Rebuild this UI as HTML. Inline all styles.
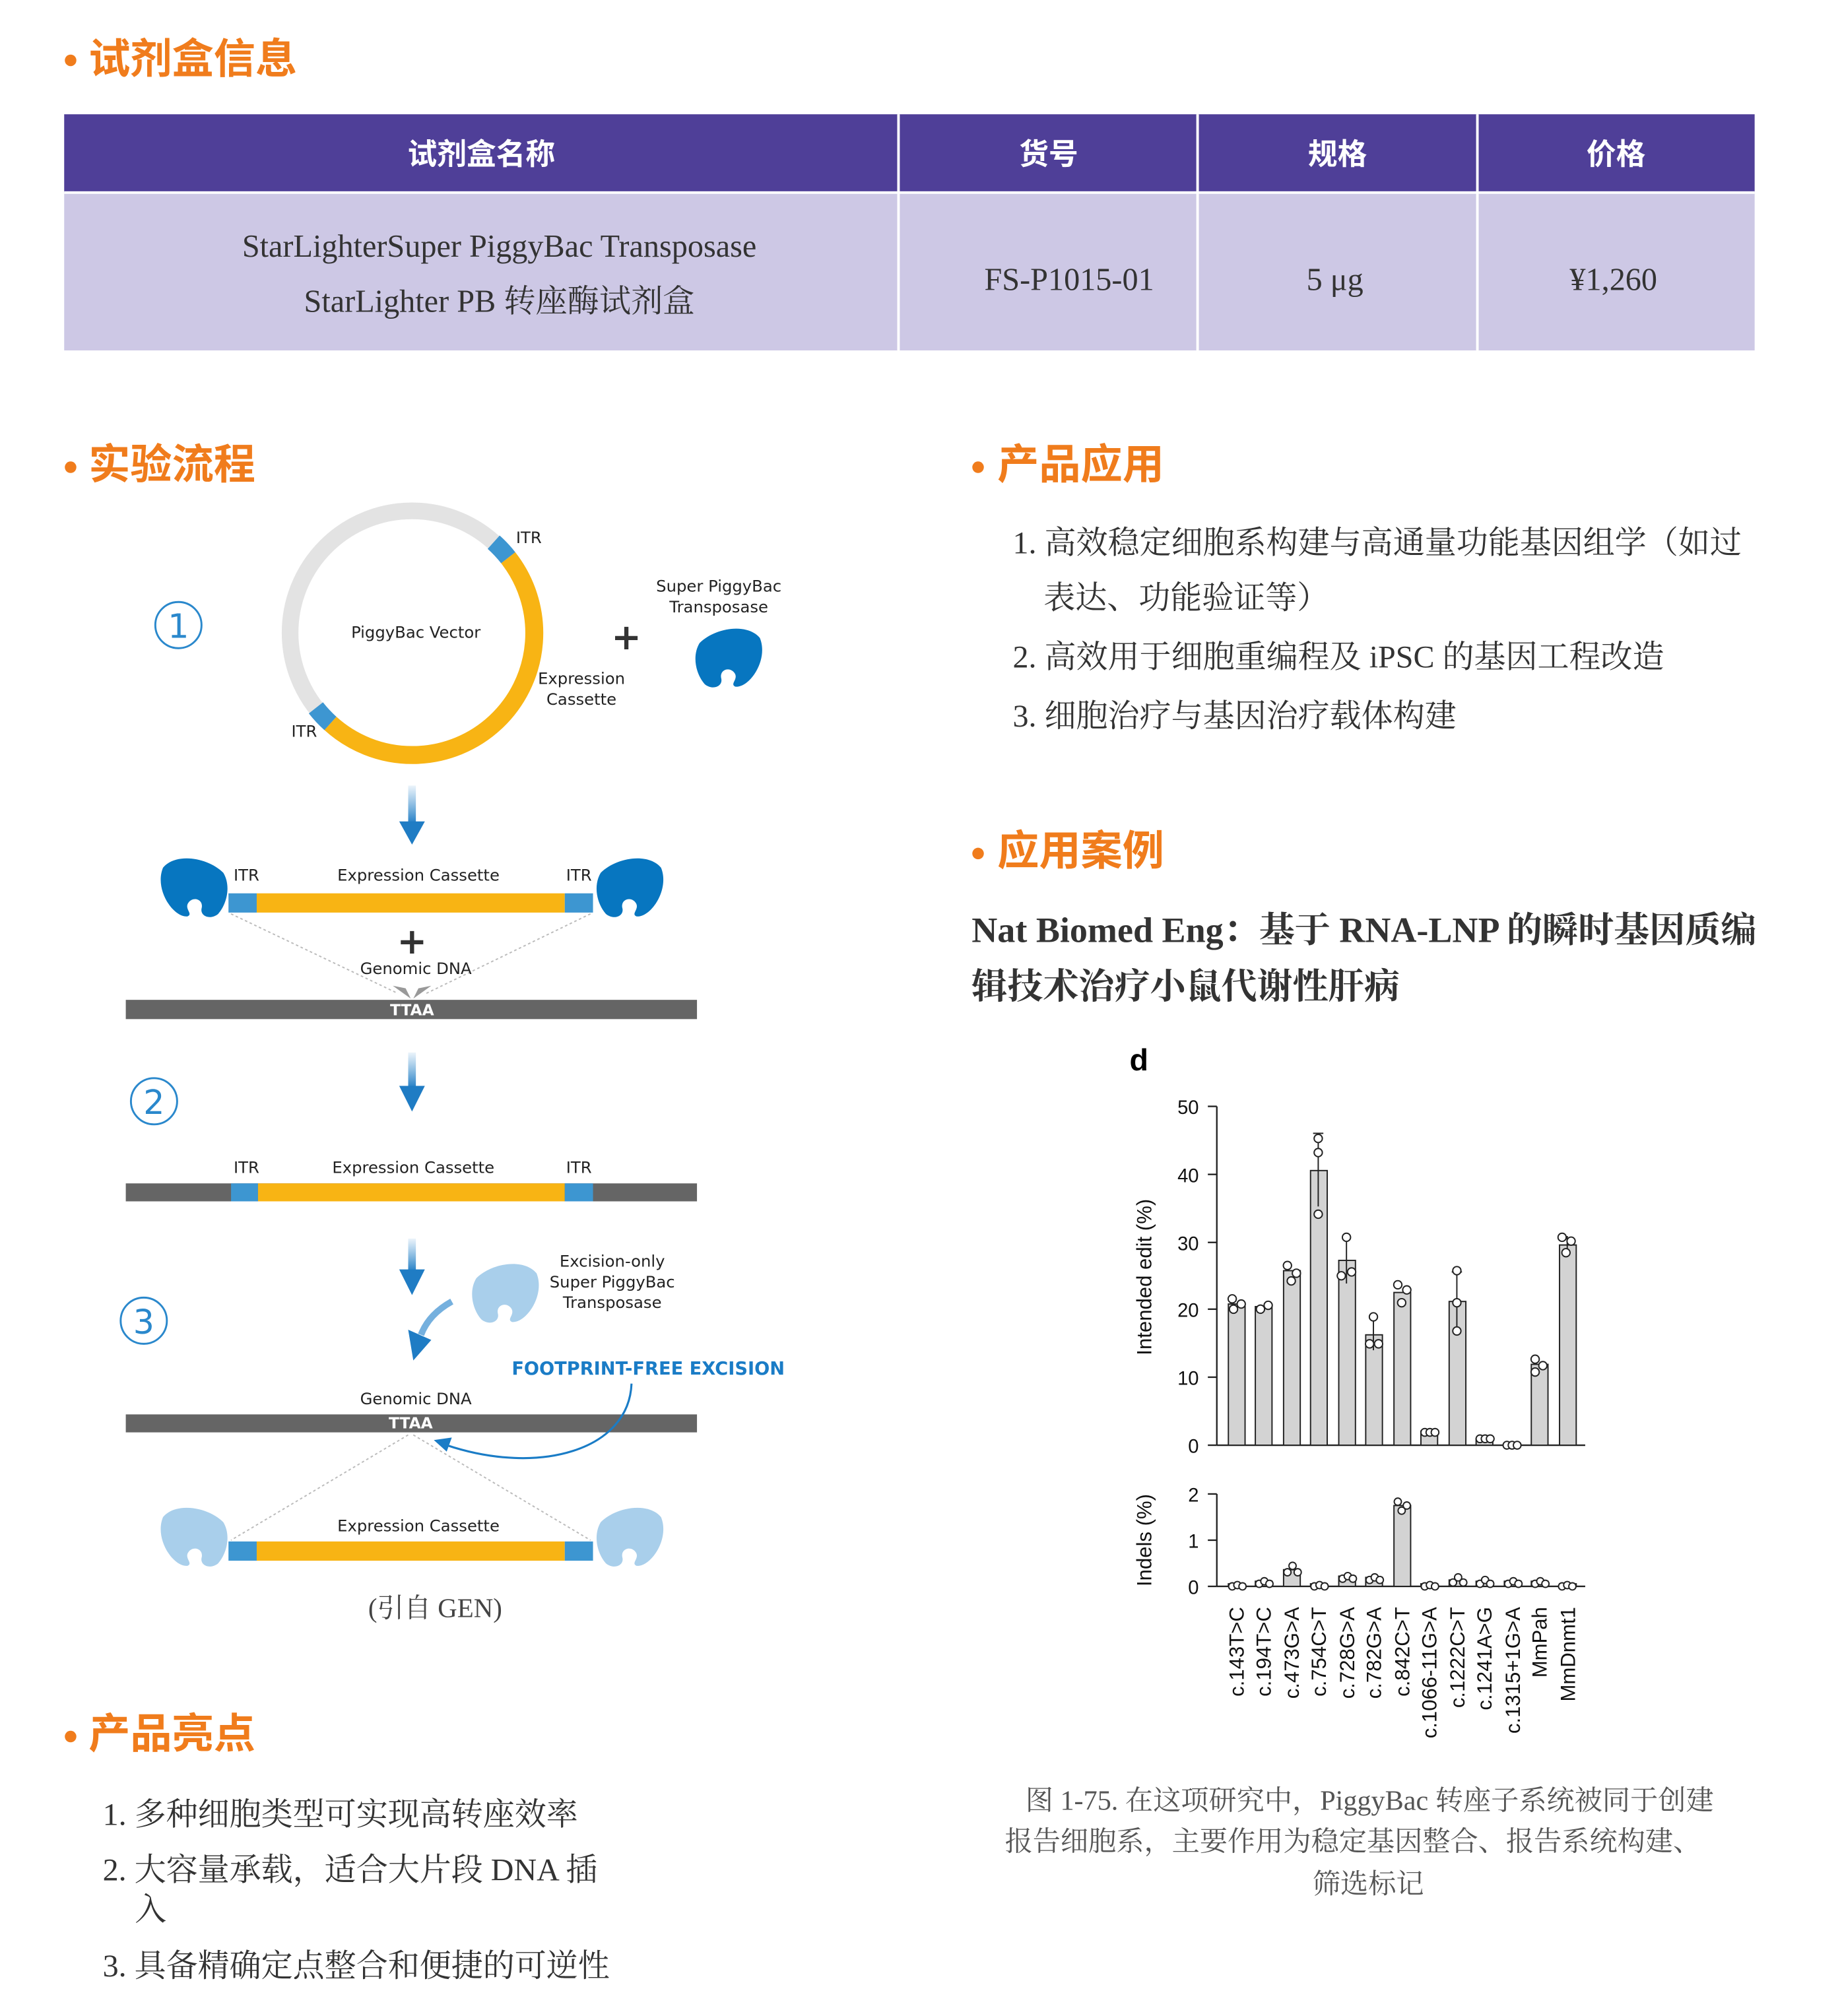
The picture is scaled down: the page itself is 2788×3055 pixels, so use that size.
<!DOCTYPE html>
<html><head><meta charset="utf-8">
<style>
html,body{margin:0;padding:0;background:#fff;}
svg{display:block;}
.h{font-family:"Liberation Sans","Noto Sans CJK SC",sans-serif;font-weight:bold;fill:#f07c1c;font-size:32.5px;}
.th{font-family:"Liberation Sans","Noto Sans CJK SC",sans-serif;font-weight:bold;fill:#fff;font-size:23px;}
.td{font-family:"Liberation Serif","Noto Serif CJK SC",serif;fill:#333;font-size:24.8px;}
.li{font-family:"Liberation Serif","Noto Serif CJK SC",serif;fill:#333;font-size:24.7px;}
.d{font-family:"DejaVu Sans","Liberation Sans",sans-serif;fill:#222;font-size:12.5px;}
.ax{font-family:"Liberation Sans",sans-serif;fill:#111;font-size:15px;}
</style></head>
<body>
<svg width="2788" height="3055" viewBox="0 0 1433.5 1570.7" xmlns="http://www.w3.org/2000/svg">
<defs>
<linearGradient id="ga" x1="0" y1="0" x2="0" y2="1"><stop offset="0" stop-color="#3a8fd0" stop-opacity="0.1"/><stop offset="1" stop-color="#1f7cc4"/></linearGradient>
<path id="pr" d="M5,10 C15,-2 40,2 52,14 C58,24 55,38 48,46 C42,51 34,48 35,42 C37,35 29,32 25,37 C21,42 29,46 24,48 C13,49 -2,27 5,10 Z"/>
</defs>

<circle cx="55" cy="47" r="4.5" fill="#f07c1c"/>
<text class="h" x="69" y="57">试剂盒信息</text>
<rect x="50" y="89" width="1317" height="61" fill="#4f3f98"/>
<rect x="50" y="150" width="1317" height="123" fill="#cdc8e5"/>
<g stroke="#fff" stroke-width="2"><line x1="700" y1="89" x2="700" y2="273"/><line x1="933" y1="89" x2="933" y2="273"/><line x1="1151" y1="89" x2="1151" y2="273"/><line x1="50" y1="150" x2="1367" y2="150"/></g>
<text class="th" x="375" y="128" text-anchor="middle">试剂盒名称</text>
<text class="th" x="817" y="128" text-anchor="middle">货号</text>
<text class="th" x="1042" y="128" text-anchor="middle">规格</text>
<text class="th" x="1259" y="128" text-anchor="middle">价格</text>
<text class="td" x="389" y="200" text-anchor="middle">StarLighterSuper PiggyBac Transposase</text>
<text class="td" x="389" y="243" text-anchor="middle">StarLighter PB 转座酶试剂盒</text>
<text class="td" x="833" y="226" text-anchor="middle">FS-P1015-01</text>
<text class="td" x="1040" y="226" text-anchor="middle">5 μg</text>
<text class="td" x="1257" y="226" text-anchor="middle">¥1,260</text>

<circle cx="55" cy="364" r="4.5" fill="#f07c1c"/><text class="h" x="69" y="373">实验流程</text>
<circle cx="762" cy="364" r="4.5" fill="#f07c1c"/><text class="h" x="777" y="373">产品应用</text>
<circle cx="762" cy="665" r="4.5" fill="#f07c1c"/><text class="h" x="777" y="674">应用案例</text>
<circle cx="55" cy="1353" r="4.5" fill="#f07c1c"/><text class="h" x="69" y="1362">产品亮点</text>

<text class="li" x="789" y="431">1. 高效稳定细胞系构建与高通量功能基因组学（如过</text>
<text class="li" x="813" y="474">表达、功能验证等）</text>
<text class="li" x="789" y="520">2. 高效用于细胞重编程及 iPSC 的基因工程改造</text>
<text class="li" x="789" y="566">3. 细胞治疗与基因治疗载体构建</text>

<text x="757" y="734" style="font-family:'Liberation Serif','Noto Serif CJK SC',serif;font-weight:bold;font-size:27.8px;fill:#333">Nat Biomed Eng：基于 RNA-LNP 的瞬时基因质编</text>
<text x="757" y="778" style="font-family:'Liberation Serif','Noto Serif CJK SC',serif;font-weight:bold;font-size:27.8px;fill:#333">辑技术治疗小鼠代谢性肝病</text>

<text class="li" x="80" y="1422">1. 多种细胞类型可实现高转座效率</text>
<text class="li" x="80" y="1465">2. 大容量承载，适合大片段 DNA 插</text>
<text class="li" x="105" y="1496">入</text>
<text class="li" x="80" y="1540">3. 具备精确定点整合和便捷的可逆性</text>

<circle cx="139" cy="487" r="18" fill="none" stroke="#2a88cc" stroke-width="1.5"/>
<text x="139" y="497" text-anchor="middle" style="font-family:'DejaVu Sans',sans-serif;font-size:26px;fill:#2a88cc">1</text>
<circle cx="321" cy="493" r="95" fill="none" stroke="#e3e3e3" stroke-width="13"/>
<path d="M395.9,434.5 A95,95 0 0 1 257.4,563.6" fill="none" stroke="#f8b414" stroke-width="14"/>
<path d="M384.6,422.4 A95,95 0 0 1 395.9,434.5" fill="none" stroke="#3d96d1" stroke-width="14"/>
<path d="M257.4,563.6 A95,95 0 0 1 246.1,551.5" fill="none" stroke="#3d96d1" stroke-width="14"/>
<text class="d" x="324" y="497" text-anchor="middle">PiggyBac Vector</text>
<text class="d" x="402" y="423">ITR</text>
<text class="d" x="227" y="574">ITR</text>
<text class="d" x="453" y="533" text-anchor="middle">Expression</text>
<text class="d" x="453" y="549" text-anchor="middle">Cassette</text>
<text x="488" y="506" text-anchor="middle" style="font-family:'DejaVu Sans',sans-serif;font-weight:bold;font-size:28px;fill:#333">+</text>
<text class="d" x="560" y="461" text-anchor="middle">Super PiggyBac</text>
<text class="d" x="560" y="477" text-anchor="middle">Transposase</text>
<use href="#pr" fill="#0776c0" transform="translate(597,487) scale(-1,1)"/>

<rect x="318" y="612" width="6" height="30" fill="url(#ga)"/><polygon points="311,640 331,640 321,658" fill="#1f7cc4"/>

<use href="#pr" fill="#0776c0" transform="translate(122,666)"/>
<use href="#pr" fill="#0776c0" transform="translate(520,666) scale(-1,1)"/>
<rect x="178" y="696" width="22" height="15" fill="#3d96d1"/>
<rect x="200" y="696" width="240" height="15" fill="#f8b414"/>
<rect x="440" y="696" width="22" height="15" fill="#3d96d1"/>
<text class="d" x="182" y="686">ITR</text>
<text class="d" x="326" y="686" text-anchor="middle">Expression Cassette</text>
<text class="d" x="441" y="686">ITR</text>
<g stroke="#bbb" stroke-width="1" stroke-dasharray="2,2" fill="none"><line x1="180" y1="712" x2="310" y2="774"/><line x1="460" y1="712" x2="332" y2="774"/></g>
<text x="321" y="743" text-anchor="middle" style="font-family:'DejaVu Sans',sans-serif;font-weight:bold;font-size:28px;fill:#333">+</text>
<text class="d" x="324" y="759" text-anchor="middle">Genomic DNA</text>
<polygon points="306,768 320,778 316,770" fill="#999"/><polygon points="336,768 322,778 326,770" fill="#999"/>
<rect x="98" y="779" width="445" height="15" fill="#656565"/>
<text x="321" y="791" text-anchor="middle" style="font-family:'DejaVu Sans',sans-serif;font-weight:bold;font-size:12px;fill:#fff">TTAA</text>

<rect x="318" y="820" width="6" height="28" fill="url(#ga)"/><polygon points="311,846 331,846 321,866" fill="#1f7cc4"/>
<circle cx="120" cy="858" r="18" fill="none" stroke="#2a88cc" stroke-width="1.5"/>
<text x="120" y="868" text-anchor="middle" style="font-family:'DejaVu Sans',sans-serif;font-size:26px;fill:#2a88cc">2</text>
<rect x="98" y="922" width="445" height="14" fill="#656565"/>
<rect x="180" y="922" width="21" height="14" fill="#3d96d1"/>
<rect x="201" y="922" width="239" height="14" fill="#f8b414"/>
<rect x="440" y="922" width="22" height="14" fill="#3d96d1"/>
<text class="d" x="182" y="914">ITR</text>
<text class="d" x="322" y="914" text-anchor="middle">Expression Cassette</text>
<text class="d" x="441" y="914">ITR</text>

<rect x="318" y="965" width="6" height="26" fill="url(#ga)"/><polygon points="311,989 331,989 321,1009" fill="#1f7cc4"/>
<path d="M352,1014 Q334,1024 328,1040" fill="none" stroke="#3a8fd0" stroke-width="5" stroke-opacity="0.7"/>
<polygon points="318,1036 336,1044 322,1060" fill="#1f7cc4"/>
<circle cx="112" cy="1029" r="18" fill="none" stroke="#2a88cc" stroke-width="1.5"/>
<text x="112" y="1039" text-anchor="middle" style="font-family:'DejaVu Sans',sans-serif;font-size:26px;fill:#2a88cc">3</text>
<use href="#pr" fill="#a9cfeb" transform="translate(423,982) scale(-1,1)"/>
<text class="d" x="477" y="987" text-anchor="middle">Excision-only</text>
<text class="d" x="477" y="1003" text-anchor="middle">Super PiggyBac</text>
<text class="d" x="477" y="1019" text-anchor="middle">Transposase</text>
<text x="505" y="1071" text-anchor="middle" style="font-family:'DejaVu Sans',sans-serif;font-weight:bold;font-size:14px;fill:#1a7cc6">FOOTPRINT-FREE EXCISION</text>
<text class="d" x="324" y="1094" text-anchor="middle">Genomic DNA</text>
<rect x="98" y="1102" width="445" height="14" fill="#656565"/>
<text x="320" y="1113" text-anchor="middle" style="font-family:'DejaVu Sans',sans-serif;font-weight:bold;font-size:12px;fill:#fff">TTAA</text>
<path d="M492,1078 C490,1130 420,1150 348,1126" fill="none" stroke="#1a7cc6" stroke-width="1.6"/>
<polygon points="338,1122 352,1120 348,1131" fill="#1a7cc6"/>
<g stroke="#bbb" stroke-width="1" stroke-dasharray="2,2" fill="none"><line x1="318" y1="1118" x2="180" y2="1200"/><line x1="322" y1="1118" x2="460" y2="1200"/></g>
<use href="#pr" fill="#a9cfeb" transform="translate(122,1172)"/>
<use href="#pr" fill="#a9cfeb" transform="translate(520,1172) scale(-1,1)"/>
<rect x="178" y="1201" width="22" height="15" fill="#3d96d1"/>
<rect x="200" y="1201" width="240" height="15" fill="#f8b414"/>
<rect x="440" y="1201" width="22" height="15" fill="#3d96d1"/>
<text class="d" x="326" y="1193" text-anchor="middle">Expression Cassette</text>
<text x="339" y="1260" text-anchor="middle" style="font-family:'Liberation Serif','Noto Serif CJK SC',serif;font-size:21px;fill:#444">(引自 GEN)</text>

<text x="880" y="834" style="font-family:'Liberation Sans',sans-serif;font-weight:bold;font-size:24px;fill:#000">d</text>
<g stroke="#222" stroke-width="1.2">
<line x1="948" y1="862" x2="948" y2="1126"/><line x1="948" y1="1126" x2="1235" y2="1126"/>
<line x1="941" y1="862" x2="948" y2="862"/><line x1="941" y1="915" x2="948" y2="915"/><line x1="941" y1="968" x2="948" y2="968"/><line x1="941" y1="1020" x2="948" y2="1020"/><line x1="941" y1="1073" x2="948" y2="1073"/><line x1="941" y1="1126" x2="948" y2="1126"/>
<line x1="948" y1="1164" x2="948" y2="1236"/><line x1="948" y1="1236" x2="1235" y2="1236"/>
<line x1="941" y1="1164" x2="948" y2="1164"/><line x1="941" y1="1200" x2="948" y2="1200"/><line x1="941" y1="1236" x2="948" y2="1236"/>
</g>
<g class="ax" text-anchor="end">
<text x="934" y="868">50</text><text x="934" y="921">40</text><text x="934" y="974">30</text><text x="934" y="1026">20</text><text x="934" y="1079">10</text><text x="934" y="1132">0</text>
<text x="934" y="1170">2</text><text x="934" y="1206">1</text><text x="934" y="1242">0</text>
</g>
<text class="ax" transform="translate(897,995) rotate(-90)" text-anchor="middle" style="font-size:16px">Intended edit (%)</text>
<text class="ax" transform="translate(897,1200) rotate(-90)" text-anchor="middle" style="font-size:16px">Indels (%)</text>
<g fill="#d3d3d3" stroke="#222" stroke-width="1">
<rect x="957" y="1016" width="13" height="110"/>
<rect x="978" y="1018" width="13" height="108"/>
<rect x="1000" y="990" width="13" height="136"/>
<rect x="1021" y="912" width="13" height="214"/>
<rect x="1043" y="982" width="13" height="144"/>
<rect x="1064" y="1040" width="13" height="86"/>
<rect x="1086" y="1007" width="13" height="119"/>
<rect x="1107" y="1115" width="13" height="11"/>
<rect x="1129" y="1014" width="13" height="112"/>
<rect x="1150" y="1121" width="13" height="5"/>
<rect x="1193" y="1063" width="13" height="63"/>
<rect x="1215" y="970" width="13" height="156"/>
<rect x="957" y="1234" width="13" height="2"/>
<rect x="978" y="1232" width="13" height="4"/>
<rect x="1000" y="1223" width="13" height="13"/>
<rect x="1021" y="1234" width="13" height="2"/>
<rect x="1043" y="1228" width="13" height="8"/>
<rect x="1064" y="1229" width="13" height="7"/>
<rect x="1086" y="1173" width="13" height="63"/>
<rect x="1107" y="1234" width="13" height="2"/>
<rect x="1129" y="1231" width="13" height="5"/>
<rect x="1150" y="1232" width="13" height="4"/>
<rect x="1172" y="1232" width="13" height="4"/>
<rect x="1193" y="1232" width="13" height="4"/>
<rect x="1215" y="1234" width="13" height="2"/>
</g>
<g stroke="#222" stroke-width="1" fill="none">
<line x1="1027" y1="883" x2="1027" y2="940"/><line x1="1023" y1="883" x2="1031" y2="883"/>
<line x1="1049" y1="964" x2="1049" y2="1000"/><line x1="1070" y1="1027" x2="1070" y2="1052"/>
<line x1="1135" y1="991" x2="1135" y2="1036"/><line x1="1131" y1="991" x2="1139" y2="991"/>
<line x1="1221" y1="963" x2="1221" y2="976"/>
</g>
<g fill="#fff" stroke="#222" stroke-width="1">
<circle cx="960" cy="1012" r="3.2"/><circle cx="967" cy="1016" r="3.2"/><circle cx="961" cy="1020" r="3.2"/>
<circle cx="982" cy="1020" r="3.2"/><circle cx="988" cy="1017" r="3.2"/>
<circle cx="1003" cy="986" r="3.2"/><circle cx="1010" cy="992" r="3.2"/><circle cx="1006" cy="998" r="3.2"/>
<circle cx="1027" cy="887" r="3.2"/><circle cx="1027" cy="898" r="3.2"/><circle cx="1027" cy="946" r="3.2"/>
<circle cx="1049" cy="964" r="3.2"/><circle cx="1045" cy="994" r="3.2"/><circle cx="1053" cy="991" r="3.2"/>
<circle cx="1070" cy="1026" r="3.2"/><circle cx="1067" cy="1047" r="3.2"/><circle cx="1074" cy="1047" r="3.2"/>
<circle cx="1089" cy="1001" r="3.2"/><circle cx="1096" cy="1005" r="3.2"/><circle cx="1092" cy="1015" r="3.2"/>
<circle cx="1110" cy="1116" r="3"/><circle cx="1114" cy="1116" r="3"/><circle cx="1118" cy="1116" r="3"/>
<circle cx="1135" cy="990" r="3.2"/><circle cx="1135" cy="1015" r="3.2"/><circle cx="1135" cy="1037" r="3.2"/>
<circle cx="1153" cy="1121" r="3"/><circle cx="1157" cy="1121" r="3"/><circle cx="1161" cy="1121" r="3"/>
<circle cx="1174" cy="1126" r="3"/><circle cx="1178" cy="1126" r="3"/><circle cx="1182" cy="1126" r="3"/>
<circle cx="1196" cy="1059" r="3.2"/><circle cx="1202" cy="1064" r="3.2"/><circle cx="1196" cy="1069" r="3.2"/>
<circle cx="1217" cy="964" r="3.2"/><circle cx="1224" cy="967" r="3.2"/><circle cx="1220" cy="976" r="3.2"/>
<circle cx="960" cy="1236" r="2.8"/><circle cx="964" cy="1235" r="2.8"/><circle cx="968" cy="1236" r="2.8"/>
<circle cx="981" cy="1234" r="2.8"/><circle cx="985" cy="1232" r="2.8"/><circle cx="989" cy="1234" r="2.8"/>
<circle cx="1003" cy="1225" r="2.8"/><circle cx="1007" cy="1220" r="2.8"/><circle cx="1011" cy="1225" r="2.8"/>
<circle cx="1024" cy="1236" r="2.8"/><circle cx="1028" cy="1235" r="2.8"/><circle cx="1032" cy="1236" r="2.8"/>
<circle cx="1046" cy="1230" r="2.8"/><circle cx="1050" cy="1228" r="2.8"/><circle cx="1054" cy="1230" r="2.8"/>
<circle cx="1067" cy="1231" r="2.8"/><circle cx="1071" cy="1229" r="2.8"/><circle cx="1075" cy="1231" r="2.8"/>
<circle cx="1089" cy="1170" r="2.8"/><circle cx="1096" cy="1173" r="2.8"/><circle cx="1092" cy="1177" r="2.8"/>
<circle cx="1110" cy="1236" r="2.8"/><circle cx="1114" cy="1235" r="2.8"/><circle cx="1118" cy="1236" r="2.8"/>
<circle cx="1132" cy="1233" r="2.8"/><circle cx="1136" cy="1229" r="2.8"/><circle cx="1140" cy="1233" r="2.8"/>
<circle cx="1153" cy="1234" r="2.8"/><circle cx="1157" cy="1231" r="2.8"/><circle cx="1161" cy="1234" r="2.8"/>
<circle cx="1175" cy="1234" r="2.8"/><circle cx="1179" cy="1232" r="2.8"/><circle cx="1183" cy="1234" r="2.8"/>
<circle cx="1196" cy="1234" r="2.8"/><circle cx="1200" cy="1232" r="2.8"/><circle cx="1204" cy="1234" r="2.8"/>
<circle cx="1217" cy="1236" r="2.8"/><circle cx="1221" cy="1235" r="2.8"/><circle cx="1225" cy="1236" r="2.8"/>
</g>
<g class="ax" text-anchor="end" style="font-size:16px">
<text transform="translate(969,1252) rotate(-90)">c.143T&gt;C</text>
<text transform="translate(990,1252) rotate(-90)">c.194T&gt;C</text>
<text transform="translate(1012,1252) rotate(-90)">c.473G&gt;A</text>
<text transform="translate(1033,1252) rotate(-90)">c.754C&gt;T</text>
<text transform="translate(1055,1252) rotate(-90)">c.728G&gt;A</text>
<text transform="translate(1076,1252) rotate(-90)">c.782G&gt;A</text>
<text transform="translate(1098,1252) rotate(-90)">c.842C&gt;T</text>
<text transform="translate(1119,1252) rotate(-90)">c.1066-11G&gt;A</text>
<text transform="translate(1141,1252) rotate(-90)">c.1222C&gt;T</text>
<text transform="translate(1162,1252) rotate(-90)">c.1241A&gt;G</text>
<text transform="translate(1184,1252) rotate(-90)">c.1315+1G&gt;A</text>
<text transform="translate(1205,1252) rotate(-90)">MmPah</text>
<text transform="translate(1227,1252) rotate(-90)">MmDnmt1</text>
</g>
<g style="font-family:'Liberation Serif','Noto Serif CJK SC',serif;font-size:21.7px;fill:#555" text-anchor="middle">
<text x="1067" y="1410">图 1-75. 在这项研究中，PiggyBac 转座子系统被同于创建</text>
<text x="1054" y="1442">报告细胞系，主要作用为稳定基因整合、报告系统构建、</text>
<text x="1066" y="1475">筛选标记</text>
</g>
</svg>
</body></html>
